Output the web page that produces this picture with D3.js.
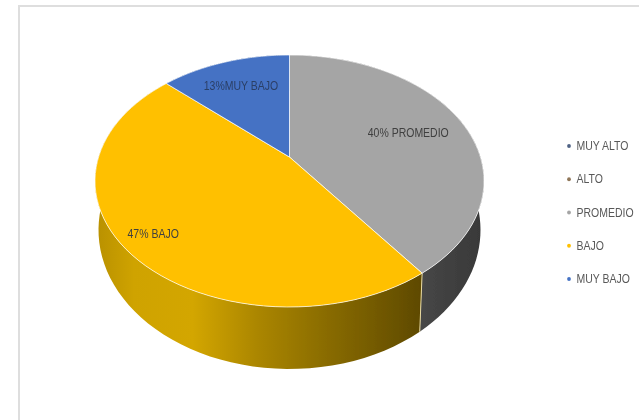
<!DOCTYPE html>
<html><head><meta charset="utf-8">
<script src="https://cdn.jsdelivr.net/npm/d3@7"></script>
<style>html,body{margin:0;padding:0;background:#fff;overflow:hidden}svg{display:block}
text{font-family:"Liberation Sans",sans-serif}</style>
</head><body><svg id="c" width="639" height="420"></svg>
<script>
const categories = ["MUY ALTO","ALTO","PROMEDIO","BAJO","MUY BAJO"];
const values = [0,0,40,47,13];
const colors = ["#4f6284","#8f7658","#a5a5a5","#ffc000","#4472c4"];
const labelTexts = ["","","40% PROMEDIO","47% BAJO","13%MUY BAJO"];
const labelRadius = [0,0,0.68,0.85,0.72];

const W=639,H=420;
const top_={cx:289.5,cy:181,rx:194.5,ry:126};
const bot={cx:289.5,cy:230,rx:191,ry:139};
const c=-0.19; // perspective shift of the pie's centre inside the ellipse
const squeeze=0.875;
const svg=d3.select("#c");
const defs=svg.append("defs");
defs.append("filter").attr("id","soft").attr("x","-5%").attr("y","-5%").attr("width","110%").attr("height","110%")
  .append("feGaussianBlur").attr("stdDeviation",0.55);
defs.append("filter").attr("id","softT").attr("x","-10%").attr("y","-30%").attr("width","120%").attr("height","160%")
  .append("feGaussianBlur").attr("stdDeviation",0.7);
const g1=defs.append("linearGradient").attr("id","wallY").attr("gradientUnits","userSpaceOnUse")
  .attr("x1",95).attr("x2",420).attr("y1",0).attr("y2",0);
[[0,"#b89000"],[0.12,"#cfa300"],[0.3,"#d3a600"],[0.5,"#ab8600"],[0.7,"#8b6d00"],[1,"#5f4a00"]]
  .forEach(s=>g1.append("stop").attr("offset",s[0]).attr("stop-color",s[1]));
const g2=defs.append("linearGradient").attr("id","wallG").attr("gradientUnits","userSpaceOnUse")
  .attr("x1",420).attr("x2",484).attr("y1",0).attr("y2",0);
[[0,"#474747"],[1,"#383838"]].forEach(s=>g2.append("stop").attr("offset",s[0]).attr("stop-color",s[1]));

function project(a,r,e){
  const u=r*Math.sin(a),v=-r*Math.cos(a),d=1+c*v;
  return [e.cx+e.rx*u*Math.sqrt(1-c*c)/d, e.cy+e.ry*(v+c)/d];
}
const pie=d3.pie().sort(null).value(d=>d)(values);
const line=d3.line();
svg.append("path").attr("d",line([[W,6],[19,6],[19,H]])).attr("fill","none").attr("stroke","#dedede").attr("stroke-width",2);

const chart=svg.append("g").attr("filter","url(#soft)");
const arcPts=(d,e,r=1)=>d3.range(0,61).map(i=>project(d.startAngle+(d.endAngle-d.startAngle)*i/60,r,e));
const wallFill=["none","none","url(#wallG)","url(#wallY)","#2f5597"];
pie.forEach((d,i)=>{
  if(!d.value) return;
  chart.append("path").attr("d",line(arcPts(d,top_).concat(arcPts(d,bot).reverse()))+"Z").attr("fill",wallFill[i]);
});
const split=pie[2].endAngle;
chart.append("path").attr("d",line([project(split,1,top_),project(split,1,bot)])).attr("stroke","#e8d9a0").attr("stroke-width",1);
pie.forEach((d,i)=>{
  if(!d.value) return;
  chart.append("path").attr("d",line([project(0,0,top_)].concat(arcPts(d,top_)))+"Z")
    .attr("fill",colors[i]).attr("stroke","#fff").attr("stroke-opacity",0.7).attr("stroke-width",1);
});
const labels=svg.append("g").attr("filter","url(#softT)");
pie.forEach((d,i)=>{
  if(!d.value) return;
  const p=project((d.startAngle+d.endAngle)/2,labelRadius[i],top_);
  labels.append("text").attr("transform",`translate(${p[0]},${p[1]}) scale(${squeeze},1)`).attr("dy","0.35em").attr("text-anchor","middle")
    .attr("font-size",12).attr("fill",i===4?"#2b3f66":"#404040").text(labelTexts[i]);
});
const ly=d3.scalePoint().domain(categories).range([146,279]);
const leg=svg.append("g").attr("filter","url(#softT)");
categories.forEach((n,i)=>{
  leg.append("circle").attr("cx",569).attr("cy",ly(n)).attr("r",1.9).attr("fill",colors[i]);
  leg.append("text").attr("transform",`translate(576.5,${ly(n)}) scale(${squeeze},1)`).attr("dy","0.35em").attr("font-size",12).attr("fill","#595959").text(n);
});
</script></body></html>
